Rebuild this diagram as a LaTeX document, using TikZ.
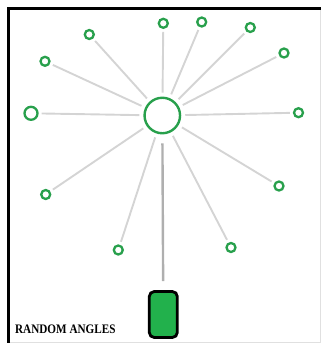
\documentclass[tikz,border=0pt]{standalone}
\usepackage{fontspec}
\setmainfont{Liberation Serif}
\usepackage{tikz}

\definecolor{leafgreen}{RGB}{40,160,76}
\definecolor{phonegreen}{RGB}{34,177,76}
\definecolor{spokegray}{RGB}{212,212,212}
\definecolor{stemgray}{RGB}{175,175,175}

\begin{document}
\begin{tikzpicture}[x=1pt, y=-1pt,
    hub/.style={circle, draw=leafgreen, line width=2.4pt, minimum size=35.5pt, inner sep=0pt},
    leaf/.style={circle, draw=leafgreen, line width=2.3pt, minimum size=9pt, inner sep=0pt},
    bigleaf/.style={leaf, minimum size=13pt},
    spoke/.style={draw=spokegray, line width=1.9pt, shorten <=4pt, shorten >=3pt},
    stem/.style={draw=stemgray, line width=2.4pt, shorten <=9pt, shorten >=9pt},
    phone/.style={draw=black, line width=2.8pt, rounded corners=5pt, fill=phonegreen,
      minimum width=28pt, minimum height=46pt, inner sep=0pt}
  ]
    \useasboundingbox (0,0) rectangle (321,343);

    % frame
    \draw[line width=3pt] (7,8.5) -- (321,8.5);
    \draw[line width=3pt] (8.5,7) -- (8.5,343);
    \draw[black!12, line width=1pt] (320.5,10) -- (320.5,343);
    \draw[black!12, line width=1pt] (10,342.3) -- (321,342.3);

    \node[hub] (hub) at (162.3,115.5) {};

    \node[leaf] (leaf1) at (163.3,23.3) {};
    \node[leaf] (leaf2) at (201.7,22) {};
    \node[leaf] (leaf3) at (250.3,27.5) {};
    \node[leaf] (leaf4) at (284,53) {};
    \node[leaf] (leaf5) at (298.5,112.7) {};
    \node[leaf] (leaf6) at (279,186) {};
    \node[leaf] (leaf7) at (231,247.5) {};
    \node[leaf] (leaf8) at (118.3,250) {};
    \node[leaf] (leaf9) at (45.7,194.5) {};
    \node[bigleaf] (leaf10) at (31,113.3) {};
    \node[leaf] (leaf11) at (45,61.3) {};
    \node[leaf] (leaf12) at (89.3,34.5) {};

    \draw[spoke] (hub) -- (leaf1);
    \draw[spoke] (hub) -- (leaf2);
    \draw[spoke] (hub) -- (leaf3);
    \draw[spoke] (hub) -- (leaf4);
    \draw[spoke] (hub) -- (leaf5);
    \draw[spoke] (hub) -- (leaf6);
    \draw[spoke] (hub) -- (leaf7);
    \draw[spoke] (hub) -- (leaf8);
    \draw[spoke] (hub) -- (leaf9);
    \draw[spoke] (hub) -- (leaf10);
    \draw[spoke] (hub) -- (leaf11);
    \draw[spoke] (hub) -- (leaf12);

    \node[phone] (phone) at (163.3,314.5) {};
    \draw[stem] (hub) -- (phone);

    \node[anchor=base west, inner sep=0pt, xscale=0.86] (caption) at (15,333.5)
      {\fontsize{13}{15}\selectfont\bfseries RANDOM ANGLES};
  \end{tikzpicture}
\end{document}
